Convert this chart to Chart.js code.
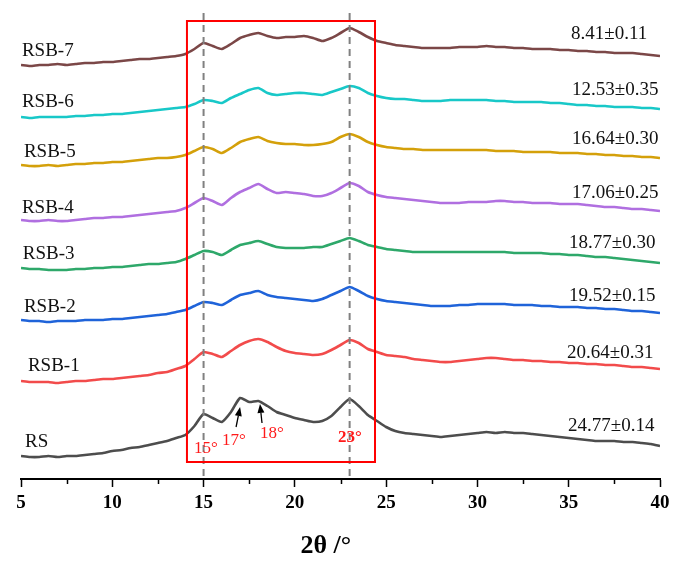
<!DOCTYPE html>
<html>
<head>
<meta charset="utf-8">
<script src="https://cdn.jsdelivr.net/npm/chart.js@4.4.1/dist/chart.umd.min.js"></script>
<style>
html,body{margin:0;padding:0;background:#fff;}
canvas{display:block;}
</style>
</head>
<body>
<canvas id="c" width="688" height="572"></canvas>
<script>
// 2θ positions (degrees)
const twoTheta = [5,5.5,6,6.5,7,7.5,8,8.5,9,9.5,10,10.5,11,11.5,12,12.5,13,13.5,14,14.5,15,15.5,16,16.5,17,17.5,18,18.5,19,19.5,20,20.5,21,21.5,22,22.5,23,23.5,24,24.5,25,25.5,26,26.5,27,27.5,28,28.5,29,29.5,30,30.5,31,31.5,32,32.5,33,33.5,34,34.5,35,35.5,36,36.5,37,37.5,38,38.5,39,39.5,40];

// offset intensities (a.u.)
const RS    = [23,22,22,23,22,23,23,24,25,26,28,29,31,32,34,36,38,41,44,53,65,61,57,67,81,77,78,73,67,64,61,59,57,58,63,72,80,73,64,58,52,48,46,45,44,43,42,43,44,45,46,47,46,47,46,46,45,44,43,42,41,40,39,38,38,38,37,37,36,35,33];
const RSB1  = [98,97,97,97,96,97,98,98,99,100,100,101,102,103,104,106,107,110,113,120,127,125,122,128,134,138,140,137,132,128,126,125,124,125,129,134,139,136,130,127,124,123,122,120,119,118,117,117,118,119,120,121,121,120,119,119,118,118,117,117,116,116,115,115,114,114,113,112,112,111,110];
const RSB2  = [159,158,158,157,158,158,158,159,159,159,160,160,161,162,163,164,165,167,169,173,177,176,174,179,184,186,188,184,182,181,180,179,178,180,184,188,192,188,183,180,178,177,176,175,174,173,173,173,174,174,175,175,175,175,174,174,174,173,173,172,172,172,171,171,170,170,169,168,168,167,166];
const RSB3  = [211,210,210,209,209,209,210,210,211,211,212,212,213,214,215,215,216,217,220,224,228,227,224,229,234,236,238,235,232,231,231,231,232,232,235,238,241,238,234,232,230,229,228,227,227,227,227,227,227,227,227,227,227,227,226,226,226,226,225,225,224,224,223,222,222,221,220,219,218,217,216];
const RSB4  = [259,258,258,259,258,258,259,260,261,261,262,262,263,264,265,266,267,268,271,276,281,278,274,281,287,291,295,290,286,287,286,285,283,283,286,291,296,293,287,284,282,281,280,279,278,277,276,276,276,277,277,277,278,278,277,277,276,276,276,275,275,275,274,273,272,272,271,270,270,269,268];
const RSB5  = [314,313,313,314,313,314,315,315,316,316,317,317,318,319,320,321,321,322,324,328,332,330,326,331,337,340,342,338,336,335,335,334,334,335,337,342,345,342,337,334,332,331,330,330,329,329,329,329,329,329,329,329,328,328,328,327,327,327,327,326,326,326,325,325,324,324,323,323,322,322,321];
const RSB6  = [362,361,362,362,362,362,363,363,364,364,365,365,366,367,368,369,370,371,372,375,379,378,376,381,385,389,391,386,384,385,386,386,385,384,387,390,393,391,386,383,381,380,380,379,378,378,378,379,379,379,379,379,378,378,377,377,377,377,376,376,375,374,374,373,373,372,372,372,371,371,370];
const RSB7  = [414,413,414,414,415,414,415,416,416,417,417,418,419,420,420,421,422,423,425,430,436,433,430,435,441,444,446,443,441,442,442,443,441,438,441,446,451,447,442,438,436,434,433,432,431,431,431,431,432,432,432,433,432,432,431,431,430,430,430,429,429,428,428,427,427,426,426,426,425,424,423];

const seriesNames = ['RS','RSB-1','RSB-2','RSB-3','RSB-4','RSB-5','RSB-6','RSB-7'];
const seriesData  = [RS,RSB1,RSB2,RSB3,RSB4,RSB5,RSB6,RSB7];
const crystallinity = ['24.77±0.14','20.64±0.31','19.52±0.15','18.77±0.30','17.06±0.25','16.64±0.30','12.53±0.35','8.41±0.11'];
const peakLabels = ['15°','17°','18°','23°'];
const xTickValues = [5,10,15,20,25,30,35,40];
const minorTickValues = [7.5,12.5,17.5,22.5,27.5,32.5,37.5];
const dashedLineAt = [15,23];
const xAxisTitle = '2θ /°';

// styling / placement (kept apart from the data)
const colors = ['#4d4d4d','#f24b4b','#1f63d9','#2ea86a','#b06fe0','#d4a00a','#18c8c8','#7b4747'];
const namePos = [[5.22,32],[5.38,108],[5.16,167],[5.1,220],[5.05,266],[5.16,322],[5.05,372],[5.05,423]];
const valuePos = [[34.96,48],[34.91,121],[35.02,178],[35.02,231],[35.18,281],[35.18,335],[35.18,384],[35.13,440]];
const peakPos = [[14.48,26],[16.01,34],[18.09,41],[22.36,37]];
const arrows = [[16.78,52,17.0,72],[18.2,56,18.09,75]];
const box = {x0:14.09, x1:24.39, y0:17, y1:458};
const titleAt = 21.7;

const overlay = {
  id:'overlay',
  afterDatasetsDraw(chart){
    const ctx = chart.ctx, xs = chart.scales.x, ys = chart.scales.y;
    const X = v => xs.getPixelForValue(v), Y = v => ys.getPixelForValue(v);
    ctx.save();
    // minor ticks
    ctx.strokeStyle = '#000'; ctx.lineWidth = 1.5;
    minorTickValues.forEach(v => {
      const px = Math.round(X(v)) + 0.5;
      ctx.beginPath(); ctx.moveTo(px, Y(0)); ctx.lineTo(px, Y(0) + 5); ctx.stroke();
    });
    // dashed reference lines
    ctx.strokeStyle = '#808080'; ctx.lineWidth = 2; ctx.setLineDash([7,5]);
    dashedLineAt.forEach(v => {
      ctx.beginPath(); ctx.moveTo(X(v), Y(466)); ctx.lineTo(X(v), Y(0)); ctx.stroke();
    });
    ctx.setLineDash([]);
    // red box
    ctx.strokeStyle = '#ff0000'; ctx.lineWidth = 2;
    ctx.strokeRect(X(box.x0), Y(box.y1), X(box.x1) - X(box.x0), Y(box.y0) - Y(box.y1));
    // series names & values
    ctx.fillStyle = '#111'; ctx.textBaseline = 'alphabetic'; ctx.textAlign = 'left';
    ctx.font = '19px "Liberation Serif", "Times New Roman", serif';
    seriesNames.forEach((n,i) => {
      ctx.fillText(n, X(namePos[i][0]), Y(namePos[i][1]));
      ctx.fillText(crystallinity[i], X(valuePos[i][0]), Y(valuePos[i][1]));
    });
    // peak labels
    ctx.fillStyle = '#ff1a1a';
    peakLabels.forEach((t,i) => {
      ctx.font = (i === 3 ? 'bold ' : '') + '17px "Liberation Serif", "Times New Roman", serif';
      ctx.fillText(t, X(peakPos[i][0]), Y(peakPos[i][1]));
    });
    // arrows
    ctx.strokeStyle = '#000'; ctx.fillStyle = '#000'; ctx.lineWidth = 1.3;
    arrows.forEach(a => {
      const x1 = X(a[0]), y1 = Y(a[1]), x2 = X(a[2]), y2 = Y(a[3]);
      const ang = Math.atan2(y2 - y1, x2 - x1), L = 9, W = 3.5;
      const bx = x2 - L*Math.cos(ang), by = y2 - L*Math.sin(ang);
      ctx.beginPath(); ctx.moveTo(x1,y1); ctx.lineTo(bx,by); ctx.stroke();
      ctx.beginPath();
      ctx.moveTo(x2,y2);
      ctx.lineTo(bx + W*Math.sin(ang), by - W*Math.cos(ang));
      ctx.lineTo(bx - W*Math.sin(ang), by + W*Math.cos(ang));
      ctx.closePath(); ctx.fill();
    });
    // x-axis title
    ctx.fillStyle = '#000'; ctx.textAlign = 'center'; ctx.textBaseline = 'middle';
    ctx.font = 'bold 26px "Liberation Serif", "Times New Roman", serif';
    ctx.fillText(xAxisTitle, X(titleAt), xs.bottom - 26);
    ctx.restore();
  }
};

new Chart(document.getElementById('c'), {
  type:'line',
  data:{
    datasets: seriesData.map((arr,i) => ({
      label: seriesNames[i],
      data: arr.map((v,j) => ({x: twoTheta[j], y: v})),
      borderColor: colors[i],
      borderWidth: 2.6,
      pointRadius: 0,
      tension: 0.2,
      fill: false
    }))
  },
  options:{
    responsive:false,
    animation:false,
    devicePixelRatio:1,
    layout:{padding:{left:21,right:28,top:0,bottom:0}},
    plugins:{legend:{display:false}, tooltip:{enabled:false}},
    scales:{
      x:{
        type:'linear', min:5, max:40,
        afterBuildTicks: s => { s.ticks = xTickValues.map(v => ({value:v})); },
        afterFit: s => { s.height = 93; },
        ticks:{color:'#000', padding:5, maxRotation:0, autoSkip:false,
               font:{family:'"Liberation Serif", "Times New Roman", serif', size:19, weight:'bold'}},
        grid:{display:true, drawOnChartArea:false, drawTicks:true, tickLength:8, tickWidth:1.5, tickColor:'#000'},
        border:{display:true, color:'#000', width:2},
        title:{display:false}
      },
      y:{display:false, min:0, max:479}
    }
  },
  plugins:[overlay]
});
</script>
</body>
</html>
